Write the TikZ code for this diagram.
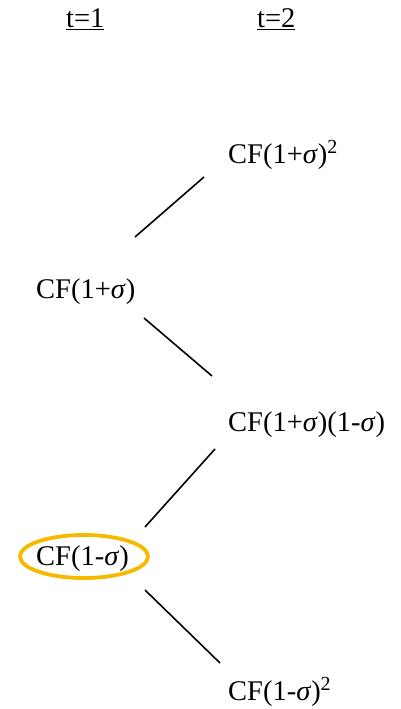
\documentclass[tikz,border=0pt]{standalone}
\usepackage{fontspec}
\setmainfont{Liberation Serif}
\usetikzlibrary{shapes.geometric}
\begin{document}
\begin{tikzpicture}[x=1pt,y=-1pt,
  lbl/.style={anchor=base west,inner sep=0pt,font=\fontsize{28.5}{34}\selectfont},
  conn/.style={line width=1.6pt,black},
  ring/.style={draw={rgb,255:red,245;green,185;blue,0},line width=3.8pt,ellipse,minimum width=128pt,minimum height=43pt,inner sep=0pt}]
\useasboundingbox (0,0) rectangle (401,709);
\node[lbl] (t1) at (66,28) {\underline{t=1}};
\node[lbl] (t2) at (257,28) {\underline{t=2}};
\node[lbl] (uu) at (228,163) {CF(1+\textit{σ})\textsuperscript{2}};
\node[lbl] (u) at (36,298) {CF(1+\textit{σ})};
\node[lbl] (ud) at (228,431) {CF(1+\textit{σ})(1-\textit{σ})};
\node[lbl] (d) at (36,565) {CF(1-\textit{σ})};
\node[lbl] (dd) at (228,700) {CF(1-\textit{σ})\textsuperscript{2}};
\node[ring] (dring) at (84,556.5) {};
\coordinate (a1) at (135,237);
\coordinate (a2) at (204,177);
\coordinate (b1) at (144,318);
\coordinate (b2) at (212,376);
\coordinate (c1) at (145,527);
\coordinate (c2) at (215,449);
\coordinate (e1) at (145,590);
\coordinate (e2) at (220,663);
\draw[conn] (a1) -- (a2);
\draw[conn] (b1) -- (b2);
\draw[conn] (c1) -- (c2);
\draw[conn] (e1) -- (e2);
\end{tikzpicture}
\end{document}
